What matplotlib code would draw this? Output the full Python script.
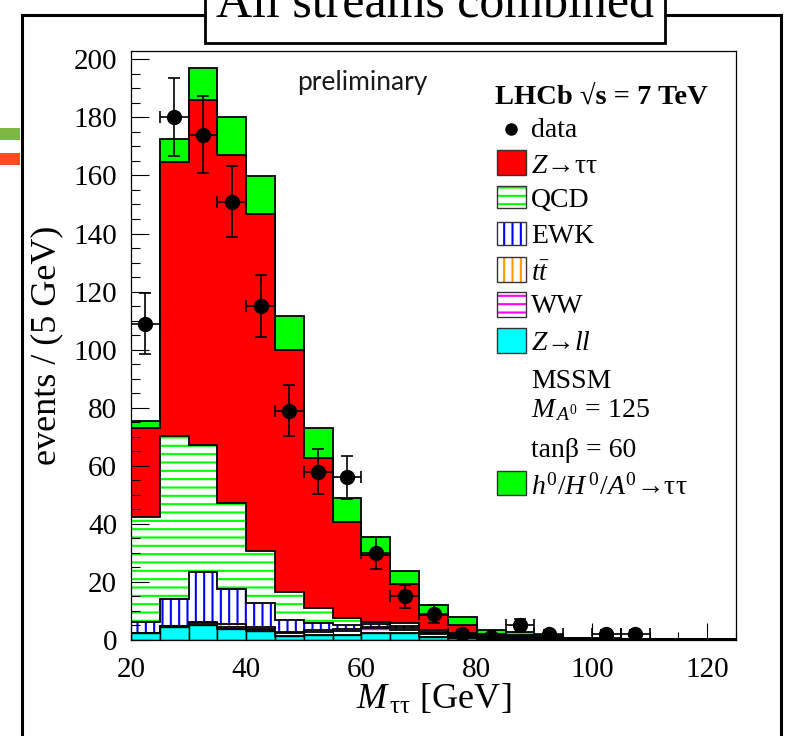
import numpy as np
import matplotlib
matplotlib.use('Agg')
import matplotlib.pyplot as plt
from matplotlib.patches import Rectangle
from matplotlib.lines import Line2D
from matplotlib.ticker import MultipleLocator

plt.rcParams['font.family'] = ['Liberation Serif', 'DejaVu Serif']
plt.rcParams['mathtext.fontset'] = 'custom'
plt.rcParams['mathtext.rm'] = 'Liberation Serif'
plt.rcParams['mathtext.it'] = 'Liberation Serif:italic'
plt.rcParams['mathtext.bf'] = 'Liberation Serif:bold'
plt.rcParams['hatch.linewidth'] = 1.5

# 5 GeV bins from 20 to 125
edges = np.arange(20, 126, 5)
centers = edges[:-1] + 2.5

data = [109, 180, 174, 151, 115, 79, 58, 56, 30, 15, 9, 2, 1, 5, 2, 0, 2, 2, 0, 0, 0]

# backgrounds, bottom of stack first
zll = [2.3, 4.6, 5.2, 3.7, 3.1, 1.3, 1.6, 1.6, 2.3, 2.3, 1.2, 0.6, 0.4, 0.3, 0.3, 0.2, 0.1, 0.1, 0.05, 0.05, 0.05]
ww = [0.1, 0.1, 0.6, 0.9, 0.8, 1.1, 1.2, 1.4, 1.7, 1.2, 0.8, 0.6, 0.4, 0.3, 0.2, 0.1, 0.1, 0.05, 0.05, 0.05, 0.0]
ttbar = [0.1, 0.1, 0.5, 0.8, 0.7, 0.5, 0.6, 0.7, 0.6, 0.5, 0.3, 0.3, 0.2, 0.2, 0.1, 0.05, 0.05, 0.05, 0.05, 0.0, 0.05]
ewk = [3.8, 9.3, 17.1, 12.3, 8.0, 4.0, 2.6, 1.5, 0.9, 0.9, 0.4, 0.3, 0.2, 0.1, 0.1, 0.05, 0.05, 0.05, 0.05, 0.05, 0.0]
qcd = [36.2, 56.2, 43.8, 29.4, 17.9, 9.5, 4.9, 2.5, 0.8, 0.8, 0.6, 0.5, 0.3, 0.2, 0.1, 0.05, 0.05, 0.05, 0.05, 0.05, 0.05]
ztautau = [30.5, 94.4, 118.8, 119.8, 116.3, 83.6, 51.7, 33.1, 23.0, 13.5, 5.4, 3.0, 0.7, 0.6, 0.4, 0.1, 0.1, 0.05, 0.05, 0.05, 0.05]
signal = [2.5, 7.7, 11.0, 13.2, 13.0, 11.7, 10.4, 8.1, 6.3, 4.4, 3.3, 2.5, 1.1, 1.0, 0.5, 0.15, 0.1, 0.1, 0.05, 0.05, 0.05]

W, H = 787, 736
fig = plt.figure(figsize=(W / 100, H / 100), dpi=100)

# axes box in pixels: left 131, right 736, top 51, bottom 640
ax = fig.add_axes([131 / W, 1 - 640 / H, 605 / W, 589 / H])

stack = np.cumsum(np.array([zll, ww, ttbar, ewk, qcd, ztautau, signal]), axis=0)
# face, hatch colour, hatch
styles = [('#00ffff', 'k', None),
          ('white', '#ff00ff', '--'),
          ('white', '#ff9900', '||'),
          ('white', '#0000ff', '||'),
          ('white', '#00ff00', '--'),
          ('#ff0000', '#ff0000', None),
          ('#00ff00', '#00ff00', None)]

# like ROOT: each cumulative histogram drawn from zero, top one first
for i in reversed(range(len(styles))):
    face, ec, h = styles[i]
    lw = 1.0 if i == 0 else 0
    ax.bar(centers, stack[i], width=5, color=face, edgecolor=ec, hatch=h, linewidth=lw)
    ax.stairs(stack[i], edges, baseline=0, color='k', lw=1.3)

data = np.array(data, dtype=float)
m = data > 0
ax.errorbar(centers[m], data[m], xerr=2.5, yerr=np.sqrt(data[m]), fmt='o', color='k',
            ms=10, elinewidth=1.2, capsize=4, capthick=1.2, zorder=5)

ax.set_xlim(20, 125)
ax.set_ylim(0, 589 / 2.9035)
ax.set_xticks(np.arange(20, 121, 20))
ax.set_yticks(np.arange(0, 201, 20))
ax.xaxis.set_minor_locator(MultipleLocator(5))
ax.yaxis.set_minor_locator(MultipleLocator(5))
ax.tick_params(which='both', direction='in', top=False, right=False, labelsize=21, width=0.8)
ax.tick_params(axis='y', which='major', length=13, pad=10)
ax.tick_params(axis='y', which='minor', length=6.5)
ax.tick_params(axis='x', which='major', length=12, pad=12)
ax.tick_params(axis='x', which='minor', length=5.5)
for s in ax.spines.values():
    s.set_linewidth(0.9)

ax.set_xlabel(r'$M_{\,\mathrm{\tau\tau}}$ [GeV]', fontsize=26, labelpad=0)
ax.set_ylabel('events / (5 GeV)', fontsize=26, labelpad=7)

ax.text((297 - 131) / 605, (640 - 90) / 589, 'preliminary', family='Lato', fontsize=19,
        color='#1a1a1a', transform=ax.transAxes, ha='left', va='baseline')


def axc(px, py):
    return (px - 131) / 605, (640 - py) / 589


# legend, drawn by hand in axes coordinates
ax.text(*axc(495, 103.5), 'LHCb √s = 7 TeV', fontsize=20.5, weight='bold',
        transform=ax.transAxes, va='baseline')
ax.plot(*axc(511, 128.6), 'o', color='k', ms=8, transform=ax.transAxes, clip_on=False)
ax.text(*axc(531, 137), 'data', fontsize=20, transform=ax.transAxes, va='baseline')

entries = [
    (r'$Z$→ττ', 5, 150, 175, 173),
    ('QCD', 4, 186, 208, 207),
    ('EWK', 3, 222, 245, 243),
    (r'$t\bar{t}$', 2, 257, 282, 281),
    ('WW', 1, 292, 317, 313),
    (r'$Z$→$ll$', 0, 328, 353, 350),
    (r'$h^{0}/H^{\,0}/A^{0}$→ττ', 6, 471, 495, 495),
]
for label, k, top, bot, base in entries:
    face, ec, h = styles[k]
    x0, y0 = axc(497, bot)
    x1, y1 = axc(526, top)
    ax.add_patch(Rectangle((x0, y0), x1 - x0, y1 - y0, transform=ax.transAxes,
                           facecolor=face, edgecolor=ec, hatch=h, linewidth=0))
    ax.add_patch(Rectangle((x0, y0), x1 - x0, y1 - y0, transform=ax.transAxes,
                           fill=False, edgecolor='#333333', linewidth=1))
    ax.text(*axc(531, base), label, fontsize=20, transform=ax.transAxes, va='baseline')

ax.text(*axc(531, 388), 'MSSM', fontsize=20, transform=ax.transAxes, va='baseline')
ax.text(*axc(531, 417), r'$M_{\,A^{0}}$ = 125', fontsize=20, transform=ax.transAxes, va='baseline')
ax.text(*axc(531, 457), 'tanβ = 60', fontsize=20, transform=ax.transAxes, va='baseline')


# slide decorations in figure pixels
def fc(px, py):
    return px / W, 1 - py / H


for xs, ys in [([22, 22], [15, 740]), ([781, 781], [15, 740]), ([22, 781], [15, 15])]:
    p = [fc(x, y) for x, y in zip(xs, ys)]
    fig.add_artist(Line2D([p[0][0], p[1][0]], [p[0][1], p[1][1]], color='k', lw=2.2,
                          transform=fig.transFigure))

bx0, by0 = fc(205, 43)
bx1, by1 = fc(665, -20)
fig.add_artist(Rectangle((bx0, by0), bx1 - bx0, by1 - by0, transform=fig.transFigure,
                         facecolor='white', edgecolor='k', linewidth=2, zorder=3))
# the slide title is cut by the top edge, as in the original
fig.text(*fc(435.5, 18), 'All streams combined', fontsize=36, ha='center', va='baseline', zorder=4)

for py, col in [(128, '#7cb842'), (153, '#ff4b1f')]:
    x0, y0 = fc(0, py + 12)
    fig.add_artist(Rectangle((x0, y0), 20 / W, 12 / H, transform=fig.transFigure,
                             facecolor=col, edgecolor='none'))

fig.savefig('out.png', dpi=100)
